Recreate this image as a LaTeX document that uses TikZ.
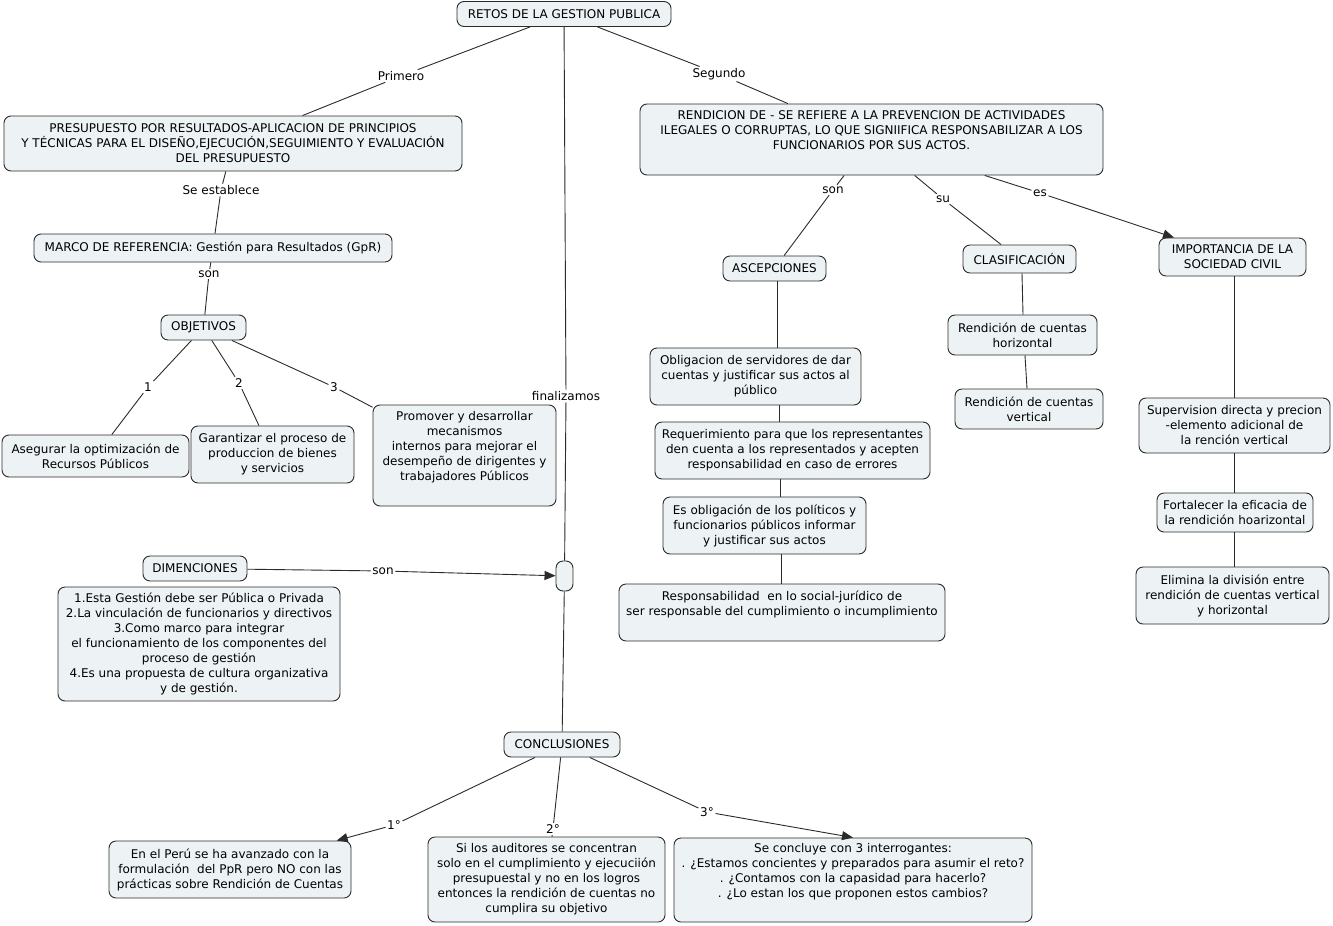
\documentclass[tikz,border=0pt]{standalone}
\usepackage{fontspec}
\setmainfont{DejaVu Sans}
\usetikzlibrary{arrows.meta}
\definecolor{boxfill}{HTML}{EDF3F5}
\definecolor{edge}{HTML}{2B2B2B}
\tikzset{
  concept/.style={draw=edge, fill=boxfill, rounded corners=7pt, line width=0.9pt, align=center, inner sep=2pt, font=\fontsize{12}{15}\selectfont},
  lbl/.style={inner sep=1.5pt, font=\fontsize{12}{15}\selectfont, text=black},
  link/.style={draw=edge, line width=0.9pt},
  arr/.style={-{Triangle[length=11pt,width=9pt]}},
}
\begin{document}
\begin{tikzpicture}[x=1pt,y=-1pt]
\useasboundingbox[fill=white] (0,0) rectangle (1333,926);

% concepts
\node[concept, minimum width=214, minimum height=25] (retos) at (564,14) {RETOS DE LA GESTION PUBLICA};
\node[concept, minimum width=458, minimum height=55] (presu) at (233,143.5) {PRESUPUESTO POR RESULTADOS-APLICACION DE PRINCIPIOS\\Y TÉCNICAS PARA EL DISEÑO,EJECUCIÓN,SEGUIMIENTO Y EVALUACIÓN\\DEL PRESUPUESTO};
\node[concept, minimum width=358, minimum height=28] (marco) at (213,248) {MARCO DE REFERENCIA: Gestión para Resultados (GpR)};
\node[concept, minimum width=85, minimum height=25] (objet) at (203.5,327.5) {OBJETIVOS};
\node[concept, minimum width=187, minimum height=42] (aseg) at (95.5,456) {Asegurar la optimización de\\Recursos Públicos};
\node[concept, minimum width=163, minimum height=57] (garan) at (272.5,454.5) {Garantizar el proceso de\\produccion de bienes\\y servicios};
\node[concept, minimum width=183, minimum height=101] (promo) at (464.5,455.5) {Promover y desarrollar\\mecanismos\\internos para mejorar el\\desempeño de dirigentes y\\trabajadores Públicos\\ \strut};
\node[concept, minimum width=104, minimum height=25] (dimen) at (195,568.5) {DIMENCIONES};
\node[concept, minimum width=282, minimum height=114] (dimlist) at (199,644) {1.Esta Gestión debe ser Pública o Privada\\2.La vinculación de funcionarios y directivos\\3.Como marco para integrar\\el funcionamiento de los componentes del\\proceso de gestión\\4.Es una propuesta de cultura organizativa\\y de gestión.};
\node[concept, minimum width=17, minimum height=30, inner sep=0pt] (junc) at (564.5,576) {};
\node[concept, minimum width=116, minimum height=25] (concl) at (562,744.5) {CONCLUSIONES};
\node[concept, minimum width=242, minimum height=57] (peru) at (230,869.5) {En el Perú se ha avanzado con la\\formulación\ \ del PpR pero NO con las\\prácticas sobre Rendición de Cuentas};
\node[concept, minimum width=237, minimum height=85] (audit) at (546.5,879.5) {Si los auditores se concentran\\solo en el cumplimiento y ejecuciión\\presupuestal y no en los logros\\entonces la rendición de cuentas no\\cumplira su objetivo};
\node[concept, minimum width=358, minimum height=84] (concluye) at (853,880) {Se concluye con 3 interrogantes:\\. ¿Estamos concientes y preparados para asumir el reto?\\. ¿Contamos con la capasidad para hacerlo?\\. ¿Lo estan los que proponen estos cambios?\\ \strut};
\node[concept, minimum width=463, minimum height=71] (rend) at (871.5,139.5) {RENDICION DE - SE REFIERE A LA PREVENCION DE ACTIVIDADES\\ILEGALES O CORRUPTAS, LO QUE SIGNIIFICA RESPONSABILIZAR A LOS\\FUNCIONARIOS POR SUS ACTOS.\\ \strut};
\node[concept, minimum width=103, minimum height=25] (asc) at (774.5,268.5) {ASCEPCIONES};
\node[concept, minimum width=113, minimum height=28] (clasif) at (1019.5,259) {CLASIFICACIÓN};
\node[concept, minimum width=147, minimum height=38] (impor) at (1232.5,257) {IMPORTANCIA DE LA\\SOCIEDAD CIVIL};
\node[concept, minimum width=211, minimum height=57] (obl) at (755.5,376.5) {Obligacion de servidores de dar\\cuentas y justificar sus actos al\\público};
\node[concept, minimum width=275, minimum height=57] (req) at (792.5,450.5) {Requerimiento para que los representantes\\den cuenta a los representados y acepten\\responsabilidad en caso de errores};
\node[concept, minimum width=203, minimum height=57] (esobl) at (764.5,525.5) {Es obligación de los políticos y\\funcionarios públicos informar\\y justificar sus actos};
\node[concept, minimum width=326, minimum height=57] (respo) at (782,612.5) {Responsabilidad\ \ en lo social-jurídico de\\ser responsable del cumplimiento o incumplimiento\\ \strut};
\node[concept, minimum width=149, minimum height=40] (rhor) at (1022.5,335) {Rendición de cuentas\\horizontal};
\node[concept, minimum width=148, minimum height=40] (rver) at (1029,409) {Rendición de cuentas\\vertical};
\node[concept, minimum width=191, minimum height=55] (superv) at (1234.5,425.5) {Supervision directa y precion\\-elemento adicional de\\la rención vertical};
\node[concept, minimum width=156, minimum height=39] (fortal) at (1235,512.5) {Fortalecer la eficacia de\\la rendición hoarizontal};
\node[concept, minimum width=193, minimum height=57] (elimina) at (1232.5,595.5) {Elimina la división entre\\rendición de cuentas vertical\\y horizontal};

% linking phrases
\node[lbl] (primero) at (401,76) {Primero};
\node[lbl] (segundo) at (719,74) {Segundo};
\node[lbl] (seest) at (221,190) {Se establece};
\node[lbl] (sonobj) at (209,274) {son};
\node[lbl] (uno) at (148,387) {1};
\node[lbl] (dos) at (239,383) {2};
\node[lbl] (tres) at (334,387) {3};
\node[lbl] (final) at (566,396) {finalizamos};
\node[lbl] (sondim) at (383,571) {son};
\node[lbl] (sonasc) at (833,190) {son};
\node[lbl] (su) at (943,199) {su};
\node[lbl] (es) at (1040,193) {es};
\node[lbl] (cuno) at (394,825) {1°};
\node[lbl] (cdos) at (553,829) {2°};
\node[lbl] (ctres) at (707,812) {3°};

% connectors
\draw[link] (retos) -- (primero) -- (presu);
\draw[link] (retos) -- (segundo) -- (rend);
\draw[link] (retos) -- (final) -- (junc);
\draw[link] (junc) -- (concl);
\draw[link] (presu) -- (seest) -- (marco);
\draw[link] (marco) -- (sonobj) -- (objet);
\draw[link] (objet) -- (uno) -- (aseg);
\draw[link] (objet) -- (dos) -- (garan);
\draw[link] (objet) -- (tres) -- (promo);
\draw[link] (dimen) -- (sondim);
\draw[link, arr] (sondim) -- (junc);
\draw[link] (rend) -- (sonasc) -- (asc);
\draw[link] (rend) -- (su) -- (clasif);
\draw[link] (rend) -- (es);
\draw[link, arr] (es) -- (impor);
\draw[link] (concl) -- (cuno);
\draw[link, arr] (cuno) -- (peru);
\draw[link] (concl) -- (cdos) -- (audit);
\draw[link] (concl) -- (ctres);
\draw[link, arr] (ctres) -- (concluye.north);

\draw[link] (777,0 |- asc.south) -- (777,0 |- obl.north);
\draw[link] (779,0 |- obl.south) -- (779,0 |- req.north);
\draw[link] (780,0 |- req.south) -- (780,0 |- esobl.north);
\draw[link] (781,0 |- esobl.south) -- (781,0 |- respo.north);
\draw[link] (1022,0 |- clasif.south) -- (1023,0 |- rhor.north);
\draw[link] (1025,0 |- rhor.south) -- (1027,0 |- rver.north);
\draw[link] (1234,0 |- impor.south) -- (1234,0 |- superv.north);
\draw[link] (1234,0 |- superv.south) -- (1234,0 |- fortal.north);
\draw[link] (1234,0 |- fortal.south) -- (1234,0 |- elimina.north);
\end{tikzpicture}
\end{document}
